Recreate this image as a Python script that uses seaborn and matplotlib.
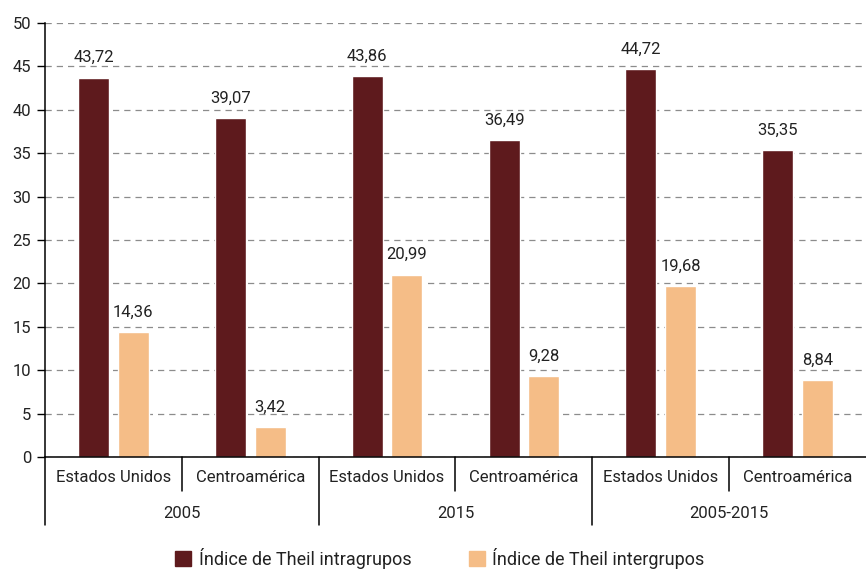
import matplotlib
matplotlib.use("Agg")
import matplotlib.pyplot as plt
import matplotlib.transforms as mtransforms
from matplotlib import font_manager
import seaborn as sns
import pandas as pd

categories = ["Estados Unidos", "Centroamérica"] * 3
groups = ["2005", "2015", "2005-2015"]
series_names = ["Índice de Theil intragrupos", "Índice de Theil intergrupos"]
intra = [43.72, 39.07, 43.86, 36.49, 44.72, 35.35]
inter = [14.36, 3.42, 20.99, 9.28, 19.68, 8.84]
colors = ["#5e1a1d", "#f5bd87"]

sns.set_theme(style="white")
avail = {f.name for f in font_manager.fontManager.ttflist}
fam = "Liberation Sans Narrow" if "Liberation Sans Narrow" in avail else "Roboto"
plt.rcParams["font.family"] = [fam, "DejaVu Sans"]

keys = [f"{g}|{c}" for g in groups for c in ["Estados Unidos", "Centroamérica"]]
df = pd.DataFrame({
    "key": keys * 2,
    "value": intra + inter,
    "serie": [series_names[0]] * 6 + [series_names[1]] * 6,
})

fig = plt.figure(figsize=(8.66, 5.69), dpi=100)
ax = fig.add_axes([45 / 866, 112 / 569, 821 / 866, 434 / 569])
sns.barplot(data=df, x="key", y="value", hue="serie", order=keys,
            hue_order=series_names, palette=colors, width=0.58, gap=0.22,
            ax=ax, legend=False, saturation=1)

ax.set_ylim(0, 50)
ax.set_xlim(-0.5, 5.5)
ax.set_yticks(range(0, 51, 5))
ax.tick_params(axis="y", labelsize=12, length=6, width=1, color="black",
               direction="out", left=True, pad=4, labelcolor="#222222")
ax.yaxis.grid(True, linestyle=(0, (5, 4)), color="#8c8c8c", linewidth=0.9)
ax.set_axisbelow(True)
ax.set_xticks([])
ax.set_xlabel("")
ax.set_ylabel("")
for s in ["top", "right"]:
    ax.spines[s].set_visible(False)
for s in ["left", "bottom"]:
    ax.spines[s].set_color("black")
    ax.spines[s].set_linewidth(1.1)

# value labels
for cont in ax.containers:
    ax.bar_label(cont, labels=[f"{v:.2f}".replace(".", ",") for v in cont.datavalues],
                 padding=9, fontsize=12, color="#222222")

# hierarchical x labels
trans = mtransforms.blended_transform_factory(ax.transData, ax.transAxes)
px = 1 / 434
for i, k in enumerate(keys):
    ax.text(i, -21 * px, categories[i], transform=trans, ha="center", va="center",
            fontsize=12, color="#222222")
for j, g in enumerate(groups):
    ax.text(2 * j + 0.5, -57 * px, g, transform=trans, ha="center", va="center",
            fontsize=12, color="#222222")
for b in [0.5, 2.5, 4.5]:
    ax.plot([b, b], [0, -34 * px], transform=trans, color="black", lw=1.1, clip_on=False)
for b in [-0.5, 1.5, 3.5]:
    ax.plot([b, b], [0, -68 * px], transform=trans, color="black", lw=1.1, clip_on=False)

handles = [plt.Rectangle((0, 0), 1, 1, color=c) for c in colors]
fig.legend(handles, series_names, loc="lower center", bbox_to_anchor=(0.508, -0.028),
           ncol=2, frameon=False, fontsize=13, handlelength=0.9, handleheight=0.9,
           handletextpad=0.4, columnspacing=3.2, labelcolor="#222222")

fig.savefig("out.png", dpi=100)
